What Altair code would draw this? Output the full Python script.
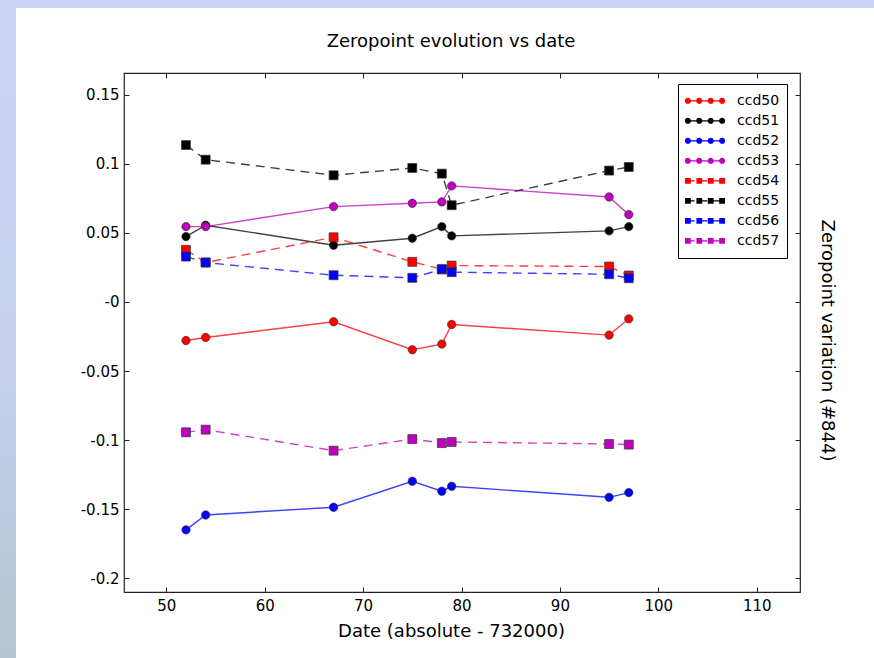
import altair as alt
import pandas as pd

# ---------------- data ----------------
dates = [52, 54, 67, 75, 78, 79, 95, 97]
series = ["ccd50", "ccd51", "ccd52", "ccd53", "ccd54", "ccd55", "ccd56", "ccd57"]
ccd50 = [-0.0279, -0.0257, -0.0143, -0.0346, -0.0305, -0.0163, -0.0240, -0.0122]
ccd51 = [0.0474, 0.0556, 0.0411, 0.0462, 0.0546, 0.0479, 0.0515, 0.0546]
ccd52 = [-0.1651, -0.1543, -0.1487, -0.1299, -0.1371, -0.1335, -0.1415, -0.1381]
ccd53 = [0.0546, 0.0546, 0.0691, 0.0715, 0.0725, 0.0841, 0.0761, 0.0633]
ccd54 = [0.0378, 0.0286, 0.0469, 0.0291, 0.0237, 0.0264, 0.0257, 0.0192]
ccd55 = [0.1137, 0.1031, 0.0918, 0.0971, 0.0930, 0.0701, 0.0952, 0.0978]
ccd56 = [0.0329, 0.0286, 0.0194, 0.0175, 0.0237, 0.0216, 0.0201, 0.0172]
ccd57 = [-0.0944, -0.0925, -0.1077, -0.0993, -0.1022, -0.1014, -0.1029, -0.1033]
values = [ccd50, ccd51, ccd52, ccd53, ccd54, ccd55, ccd56, ccd57]
circle_series = ["ccd50", "ccd51", "ccd52", "ccd53"]
square_series = ["ccd54", "ccd55", "ccd56", "ccd57"]

x_ticks = [50, 60, 70, 80, 90, 100, 110]
y_ticks = [-0.2, -0.15, -0.1, -0.05, 0, 0.05, 0.1, 0.15]

title_text = "Zeropoint evolution vs date"
x_title = "Date (absolute - 732000)"
y_title = "Zeropoint variation (#844)"

# ---------------- styles ----------------
colors = ["#ff0000", "#000000", "#0000ff", "#bf00bf",
          "#ff0000", "#000000", "#0000ff", "#bf00bf"]
FONT = "DejaVu Sans"
X_DOMAIN = [45.7, 114.4]
Y_DOMAIN = [-0.2101, 0.1659]
W, H = 676, 519
PAD = {"left": 124, "top": 73, "right": 74, "bottom": 66}


def circ(cx, r):
    return (f"M{cx - r:.3f},0A{r},{r} 0 1,0 {cx + r:.3f},0"
            f"A{r},{r} 0 1,0 {cx - r:.3f},0Z")


def sq(cx, h):
    return f"M{cx - h:.3f},{-h}H{cx + h:.3f}V{h}H{cx - h:.3f}Z"


mpos = [-0.9, -0.3, 0.3, 0.9]
solid_path = "M-1,0H1" + "".join(circ(c, 0.13) for c in mpos)
dash_path = ("M-1,0H-0.55M-0.3,0H0.12M0.36,0H0.78"
             + "".join(sq(c, 0.12) for c in mpos))
paths = [solid_path] * 4 + [dash_path] * 4

rows = []
for s, vals in zip(series, values):
    for d, v in zip(dates, vals):
        rows.append({"ccd": s, "date": d, "value": v})
df = pd.DataFrame(rows)

xs = alt.Scale(domain=X_DOMAIN, nice=False, zero=False)
ys = alt.Scale(domain=Y_DOMAIN, nice=False, zero=False)
# data-driven (alphabetical) domain so it never merges with the legend's scales
cs = alt.Scale(range=colors)

axis_common = dict(domain=False, grid=False, tickSize=5, offset=-5, tickColor="#222",
                   tickWidth=1, labelFont=FONT, labelFontSize=15, labelColor="black")

x_bottom = alt.Axis(orient="bottom", values=x_ticks, labelPadding=6, title=x_title,
                    titleFont=FONT, titleFontSize=18, titleFontWeight="normal",
                    titleColor="black", titleX=327, titleY=49, titleAlign="center",
                    titleBaseline="alphabetic", format="d", **axis_common)
y_left = alt.Axis(orient="left", values=y_ticks, labelPadding=5, title=None,
                  labelExpr="datum.value == 0 ? '-0' : '' + datum.value", **axis_common)
x_top = alt.Axis(orient="top", values=x_ticks, labels=False, title=None, **axis_common)
y_right = alt.Axis(orient="right", values=y_ticks, labels=False, title=y_title,
                   titleFont=FONT, titleFontSize=18, titleFontWeight="normal",
                   titleColor="black", titleAngle=90, titleX=31, titleY=267,
                   titleAlign="center", titleBaseline="middle", **axis_common)

base = alt.Chart(df)

solid_lines = base.transform_filter(
    alt.FieldOneOfPredicate(field="ccd", oneOf=circle_series)
).mark_line(strokeWidth=1.4, opacity=0.75).encode(
    x=alt.X("date:Q", scale=xs, axis=x_bottom),
    y=alt.Y("value:Q", scale=ys, axis=y_left),
    color=alt.Color("ccd:N", scale=cs, legend=None),
)

circles = base.transform_filter(
    alt.FieldOneOfPredicate(field="ccd", oneOf=circle_series)
).mark_point(shape="circle", filled=True, size=70, stroke="#333", strokeWidth=0.7,
             opacity=1).encode(
    x=alt.X("date:Q", scale=xs, axis=None),
    y=alt.Y("value:Q", scale=ys, axis=None),
    color=alt.Color("ccd:N", scale=cs, legend=None),
)

dashed_lines = base.transform_filter(
    alt.FieldOneOfPredicate(field="ccd", oneOf=square_series)
).mark_line(strokeWidth=1.4, opacity=0.75, strokeDash=[9, 6]).encode(
    x=alt.X("date:Q", scale=xs, axis=x_top),
    y=alt.Y("value:Q", scale=ys, axis=y_right),
    color=alt.Color("ccd:N", scale=cs, legend=None),
)

squares = base.transform_filter(
    alt.FieldOneOfPredicate(field="ccd", oneOf=square_series)
).mark_point(shape="square", filled=True, size=80, stroke="#333", strokeWidth=0.7,
             opacity=1).encode(
    x=alt.X("date:Q", scale=xs, axis=None),
    y=alt.Y("value:Q", scale=ys, axis=None),
    color=alt.Color("ccd:N", scale=cs, legend=None),
)

leg = dict(orient="none", legendX=554, legendY=11, title=None, padding=7,
           clipHeight=19.6, rowPadding=0, symbolSize=1444, symbolStrokeWidth=1.2,
           symbolOpacity=1, labelFont=FONT, labelFontSize=14, labelColor="black",
           labelOffset=12, strokeColor="black", fillColor="white", cornerRadius=0)

legend_layer = base.mark_point(filled=True, opacity=0).encode(
    x=alt.X("date:Q", scale=xs, axis=None),
    y=alt.Y("value:Q", scale=ys, axis=None),
    fill=alt.Fill("ccd:N", scale=alt.Scale(domain=series, range=colors), legend=alt.Legend(**leg)),
    stroke=alt.Stroke("ccd:N", scale=alt.Scale(domain=series, range=colors), legend=alt.Legend(**leg)),
    shape=alt.Shape("ccd:N", scale=alt.Scale(domain=series, range=paths), legend=alt.Legend(**leg)),
)

one = alt.Chart(pd.DataFrame({"k": [0]}))
top_strip = one.mark_rect(color="#c9d3f5").encode(
    x=alt.value(-PAD["left"]), x2=alt.value(W + PAD["right"]),
    y=alt.value(-PAD["top"]), y2=alt.value(-PAD["top"] + 8),
)
left_strip = one.mark_rect(
    color=alt.Gradient(gradient="linear", x1=0, x2=0, y1=0, y2=1,
                       stops=[alt.GradientStop(color="#c9d3f5", offset=0),
                              alt.GradientStop(color="#c5d1ef", offset=0.55),
                              alt.GradientStop(color="#b4c4d0", offset=1)])
).encode(
    x=alt.value(-PAD["left"]), x2=alt.value(-PAD["left"] + 16),
    y=alt.value(-PAD["top"]), y2=alt.value(H + PAD["bottom"]),
)
title_mark = one.mark_text(text=title_text, font=FONT, fontSize=18, align="center",
                           baseline="alphabetic", color="black").encode(
    x=alt.value(327), y=alt.value(-26),
)

chart = alt.layer(
    top_strip, left_strip, title_mark,
    solid_lines, circles, dashed_lines, squares, legend_layer,
).resolve_axis(x="independent", y="independent").properties(
    width=W, height=H,
    autosize=alt.AutoSizeParams(type="none"),
    padding=PAD,
).configure(background="white").configure_view(stroke="#222", strokeWidth=1.2)

chart.save("out.html", embed_options={"renderer": "svg", "actions": False})
